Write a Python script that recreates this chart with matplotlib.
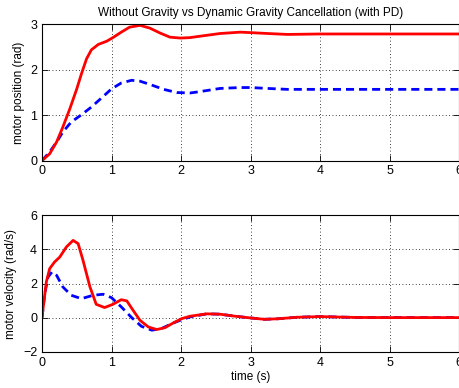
import matplotlib.pyplot as plt

plt.rcParams['font.family'] = ['Liberation Sans', 'DejaVu Sans']

# position (rad)
t_pos_red = [0, 0.11, 0.21, 0.30, 0.40, 0.50, 0.567, 0.64, 0.71, 0.81, 0.93, 1.02, 1.14,
             1.26, 1.41, 1.55, 1.70, 1.84, 1.99, 2.13, 2.27, 2.56, 2.85, 3.0, 3.25, 3.53,
             4.0, 5.0, 6.0]
pos_red = [0, 0.15, 0.41, 0.74, 1.14, 1.58, 1.91, 2.24, 2.44, 2.56, 2.63, 2.71, 2.83,
           2.94, 2.98, 2.92, 2.81, 2.72, 2.70, 2.71, 2.74, 2.80, 2.83, 2.82, 2.80, 2.78,
           2.79, 2.79, 2.79]
t_pos_blue = [0, 0.11, 0.21, 0.30, 0.42, 0.567, 0.71, 0.856, 1.0, 1.14, 1.29, 1.41, 1.55,
              1.75, 1.94, 2.13, 2.27, 2.56, 2.85, 3.0, 3.25, 3.53, 4.0, 5.0, 6.0]
pos_blue = [0, 0.19, 0.41, 0.63, 0.85, 1.01, 1.18, 1.38, 1.58, 1.71, 1.77, 1.75, 1.68,
            1.57, 1.50, 1.49, 1.52, 1.59, 1.61, 1.61, 1.59, 1.57, 1.57, 1.57, 1.57]

# velocity (rad/s)
t_vel_red = [0, 0.024, 0.0625, 0.11, 0.18, 0.255, 0.35, 0.447, 0.52, 0.59, 0.69, 0.78,
             0.90, 1.02, 1.14, 1.22, 1.31, 1.41, 1.53, 1.65, 1.77, 1.89, 2.01, 2.13,
             2.37, 2.56, 2.78, 3.0, 3.2, 3.39, 3.67, 4.0, 4.5, 5.0, 6.0]
vel_red = [0, 0.82, 2.09, 2.87, 3.26, 3.55, 4.14, 4.53, 4.34, 3.36, 1.80, 0.78,
           0.59, 0.78, 1.05, 0.98, 0.43, -0.16, -0.55, -0.70, -0.59, -0.31, -0.06, 0.08,
           0.22, 0.2, 0.08, -0.02, -0.1, -0.07, 0.02, 0.06, 0.01, 0, 0]
t_vel_blue = [0, 0.04, 0.087, 0.144, 0.21, 0.30, 0.42, 0.567, 0.735, 0.88, 1.0, 1.14,
              1.29, 1.43, 1.58, 1.72, 1.87, 2.01, 2.13, 2.37, 2.56, 2.78, 3.0, 3.2,
              3.39, 3.67, 4.0, 4.5, 5.0, 6.0]
vel_blue = [0, 1.41, 2.38, 2.68, 2.48, 1.80, 1.31, 1.11, 1.31, 1.37, 1.17, 0.63,
            0, -0.51, -0.74, -0.64, -0.35, -0.12, 0.04, 0.22, 0.2, 0.08, -0.02, -0.1,
            -0.07, 0.02, 0.06, 0.01, 0, 0]

fig = plt.figure(figsize=(4.6, 3.88), dpi=100)
ax1 = fig.add_axes([0.0913, 0.586, 0.9067, 0.351])
ax2 = fig.add_axes([0.0913, 0.0936, 0.9067, 0.3514])

dash = (0, (2.9, 1.8))
ax1.plot(t_pos_blue, pos_blue, color='#0000ff', lw=2, linestyle=dash)
ax1.plot(t_pos_red, pos_red, color='#ff0000', lw=2)
ax2.plot(t_vel_blue, vel_blue, color='#0000ff', lw=2, linestyle=dash)
ax2.plot(t_vel_red, vel_red, color='#ff0000', lw=2)

ax1.set_ylim(0, 3)
ax1.set_yticks([0, 1, 2, 3])
ax2.set_ylim(-2, 6)
ax2.set_yticks([-2, 0, 2, 4, 6])

for ax in (ax1, ax2):
    ax.set_xlim(0, 6)
    ax.set_xticks(range(7))
    ax.grid(True, linestyle=(0, (1, 3)), color='black', linewidth=0.6)
    ax.tick_params(direction='in', top=True, right=True, labelsize=9, length=4, width=0.6)
    for s in ax.spines.values():
        s.set_linewidth(0.8)

ax1.set_title('Without Gravity vs Dynamic Gravity Cancellation (with PD)', fontsize=8.5, pad=6)
ax1.set_ylabel('motor position (rad)', fontsize=8.5)
ax2.set_ylabel('motor velocity (rad/s)', fontsize=8.5)
ax2.set_xlabel('time (s)', fontsize=8.5, labelpad=2)

fig.savefig('out.png', dpi=100)
